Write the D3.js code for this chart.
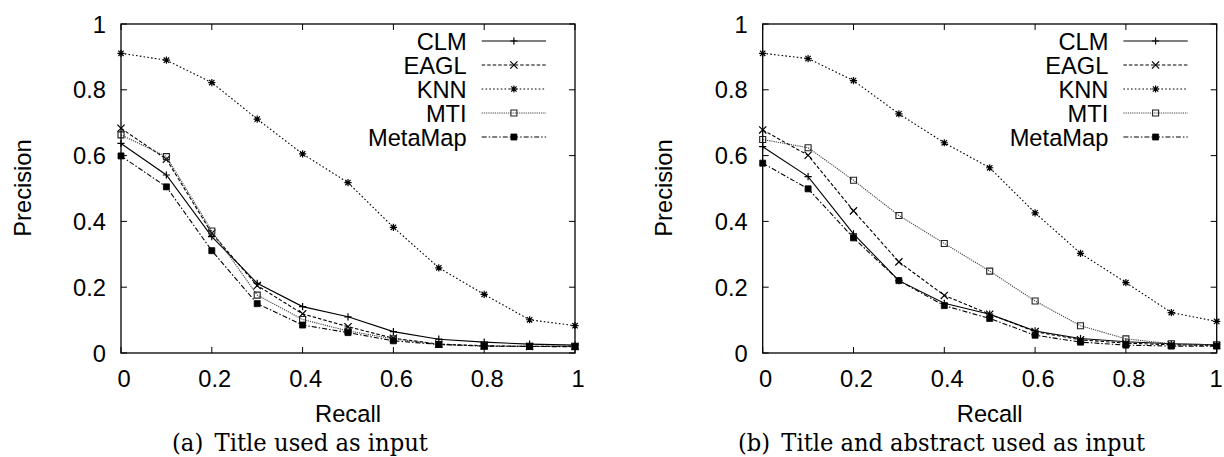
<!DOCTYPE html>
<html><head><meta charset="utf-8">
<script src="https://cdn.jsdelivr.net/npm/d3@7"></script>
<style>body{margin:0;background:#fff}svg{display:block}</style>
</head><body>
<svg id="c" width="1224" height="457"></svg>
<script>
const recall = [0, 0.1, 0.2, 0.3, 0.4, 0.5, 0.6, 0.7, 0.8, 0.9, 1.0];
const seriesNames = ["CLM", "EAGL", "KNN", "MTI", "MetaMap"];
const tickValues = [0, 0.2, 0.4, 0.6, 0.8, 1];
const tickLabels = ["0", "0.2", "0.4", "0.6", "0.8", "1"];
const captions = ["(a)\u2002Title used as input", "(b)\u2002Title and abstract used as input"];
const xLabel = "Recall";
const yLabel = "Precision";

// Panel (a): title used as input
const clmA     = [0.637, 0.541, 0.354, 0.212, 0.141, 0.110, 0.065, 0.042, 0.033, 0.027, 0.024];
const eaglA    = [0.683, 0.589, 0.364, 0.205, 0.119, 0.080, 0.045, 0.027, 0.022, 0.020, 0.020];
const knnA     = [0.911, 0.890, 0.822, 0.711, 0.605, 0.518, 0.382, 0.259, 0.178, 0.101, 0.083];
const mtiA     = [0.663, 0.597, 0.371, 0.176, 0.102, 0.067, 0.043, 0.026, 0.021, 0.020, 0.020];
const metamapA = [0.599, 0.505, 0.311, 0.150, 0.085, 0.062, 0.037, 0.026, 0.021, 0.020, 0.019];

// Panel (b): title and abstract used as input
const clmB     = [0.627, 0.536, 0.362, 0.220, 0.151, 0.118, 0.067, 0.044, 0.034, 0.028, 0.025];
const eaglB    = [0.678, 0.601, 0.432, 0.277, 0.175, 0.118, 0.065, 0.040, 0.030, 0.025, 0.023];
const knnB     = [0.911, 0.895, 0.828, 0.727, 0.639, 0.563, 0.426, 0.303, 0.214, 0.123, 0.096];
const mtiB     = [0.649, 0.624, 0.525, 0.418, 0.333, 0.249, 0.158, 0.083, 0.043, 0.028, 0.025];
const metamapB = [0.577, 0.499, 0.350, 0.220, 0.144, 0.105, 0.054, 0.033, 0.024, 0.021, 0.021];

const panels = [
  {x0: 121, x1: 575, series: [clmA, eaglA, knnA, mtiA, metamapA], cap: captions[0], capX0: 172, capX1: 428, ylabX: 30.5},
  {x0: 762.7, x1: 1216.7, series: [clmB, eaglB, knnB, mtiB, metamapB], cap: captions[1], capX0: 738, capX1: 1145, ylabX: 671.5}
];

const styles = [
  {dash: null, color: "#000", marker: "plus"},
  {dash: "3.5,2", color: "#000", marker: "cross"},
  {dash: "1.6,2.2", color: "#000", marker: "star"},
  {dash: "1.2,1", color: "#444", marker: "box"},
  {dash: "5,2,1.5,2", color: "#000", marker: "fbox"}
];

function markerPath(type) {
  const s = 3.6, b = 3;
  switch (type) {
    case "plus": return `M${-s},0H${s}M0,${-s}V${s}`;
    case "cross": return `M${-s},${-s}L${s},${s}M${-s},${s}L${s},${-s}`;
    case "star": return `M${-s},0H${s}M0,${-s}V${s}M${-s*0.75},${-s*0.75}L${s*0.75},${s*0.75}M${-s*0.75},${s*0.75}L${s*0.75},${-s*0.75}`;
    default: return `M${-b},${-b}H${b}V${b}H${-b}Z`;
  }
}
function drawMarker(g, type, color, x, y) {
  const p = g.append("path").attr("d", markerPath(type)).attr("transform", `translate(${x},${y})`);
  if (type === "fbox") p.attr("fill", "#000").attr("stroke", "#000").attr("stroke-width", 0.8);
  else if (type === "box") p.attr("fill", "none").attr("stroke", "#222").attr("stroke-width", 1.1);
  else p.attr("fill", "none").attr("stroke", "#000").attr("stroke-width", 1.2);
}

const svg = d3.select("#c");
const FS = 23.7;
const FONT = "'Liberation Sans', Arial, Helvetica, sans-serif";
const yTop = 24, yBot = 353;

panels.forEach(P => {
  const x = d3.scaleLinear().domain([0, 1]).range([P.x0, P.x1]);
  const y = d3.scaleLinear().domain([0, 1]).range([yBot, yTop]);
  const g = svg.append("g");
  const tl = 6;

  // ticks (inward, mirrored)
  tickValues.forEach(v => {
    g.append("line").attr("x1", x(v)).attr("x2", x(v)).attr("y1", yBot).attr("y2", yBot - tl).attr("stroke", "#000");
    g.append("line").attr("x1", x(v)).attr("x2", x(v)).attr("y1", yTop).attr("y2", yTop + tl).attr("stroke", "#000");
    g.append("line").attr("x1", P.x0).attr("x2", P.x0 + tl).attr("y1", y(v)).attr("y2", y(v)).attr("stroke", "#000");
    g.append("line").attr("x1", P.x1).attr("x2", P.x1 - tl).attr("y1", y(v)).attr("y2", y(v)).attr("stroke", "#000");
  });
  // tick labels
  tickValues.forEach((v, i) => {
    g.append("text").attr("x", Math.min(x(v) + 3, 1216)).attr("y", 386.5).attr("text-anchor", "middle")
      .attr("font-family", FONT).attr("font-size", FS).text(tickLabels[i]);
    g.append("text").attr("x", P.x0 - 15).attr("y", y(v) + 8.5).attr("text-anchor", "end")
      .attr("font-family", FONT).attr("font-size", FS).text(tickLabels[i]);
  });
  // axis labels
  g.append("text").attr("x", (P.x0 + P.x1) / 2).attr("y", 421.7).attr("text-anchor", "middle")
    .attr("font-family", FONT).attr("font-size", FS).text(xLabel);
  g.append("text").attr("transform", `translate(${P.ylabX},188) rotate(-90)`).attr("text-anchor", "middle")
    .attr("font-family", FONT).attr("font-size", FS).text(yLabel);

  // series
  const line = d3.line().x((d, i) => x(recall[i])).y(d => y(d));
  P.series.forEach((vals, si) => {
    const st = styles[si];
    g.append("path").datum(vals).attr("d", line).attr("fill", "none").attr("stroke", st.color)
      .attr("stroke-width", 1.1).attr("stroke-dasharray", st.dash);
    vals.forEach((v, i) => drawMarker(g, st.marker, st.color, x(recall[i]), y(v)));
  });

  // legend
  const lx = P.x1 - 108.3;
  seriesNames.forEach((name, si) => {
    const st = styles[si];
    const ly = 41 + si * 24;
    g.append("text").attr("x", lx).attr("y", ly + 8.5).attr("text-anchor", "end")
      .attr("font-family", FONT).attr("font-size", FS).text(name);
    g.append("line").attr("x1", lx + 15).attr("x2", lx + 79.4).attr("y1", ly).attr("y2", ly)
      .attr("stroke", st.color).attr("stroke-width", 1.1).attr("stroke-dasharray", st.dash);
    drawMarker(g, st.marker, st.color, lx + 47.2, ly);
  });

  // frame
  g.append("rect").attr("x", P.x0).attr("y", yTop).attr("width", P.x1 - P.x0).attr("height", yBot - yTop)
    .attr("fill", "none").attr("stroke", "#000").attr("stroke-width", 1.3);

  // caption
  g.append("text").attr("x", P.capX0).attr("y", 450.5)
    .attr("font-family", "'DejaVu Serif', 'Liberation Serif', serif").attr("font-size", 24.5)
    .attr("textLength", P.capX1 - P.capX0).attr("lengthAdjust", "spacingAndGlyphs").text(P.cap);
});
</script>
</body></html>
